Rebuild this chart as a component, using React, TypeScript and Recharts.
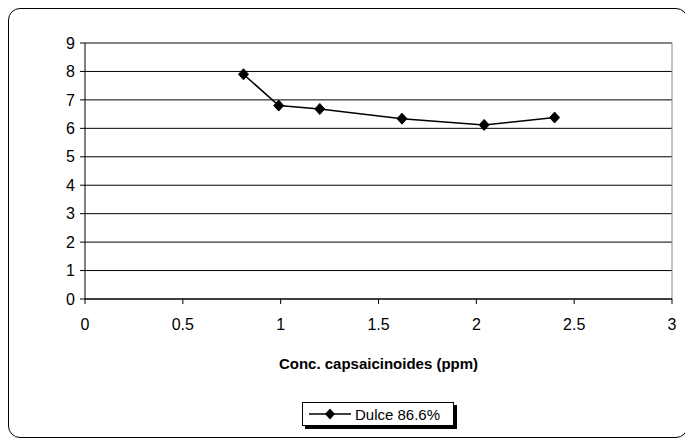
import React from 'react';
import {
  LineChart,
  Line,
  XAxis,
  YAxis,
  CartesianGrid,
  ReferenceLine
} from 'recharts';

const concPpm = [0.81, 0.99, 1.2, 1.62, 2.04, 2.4];
const dulce = [7.9, 6.8, 6.68, 6.34, 6.12, 6.38];
const xTicks = [0, 0.5, 1, 1.5, 2, 2.5, 3];
const yTicks = [0, 1, 2, 3, 4, 5, 6, 7, 8, 9];

const data = concPpm.map((x, i) => ({ x, y: dulce[i] }));

const font = 'Arial, "Liberation Sans", sans-serif';

const Diamond = (props: any) => {
  const { cx, cy } = props;
  if (cx == null || cy == null) return null;
  return (
    <path
      d={`M${cx},${cy - 5.5} L${cx + 5},${cy} L${cx},${cy + 5.5} L${cx - 5},${cy} Z`}
      fill="#000"
      stroke="#000"
    />
  );
};

const App: React.FC = () => (
  <div
    style={{
      position: 'relative',
      width: 678,
      height: 428,
      border: '1px solid #000',
      borderRadius: 12,
      background: '#fff',
      fontFamily: font
    }}
  >
    <LineChart
      width={678}
      height={428}
      data={data}
      margin={{ top: 34, right: 15, bottom: 57, left: 46 }}
    >
      <CartesianGrid horizontal vertical={false} stroke="#000" strokeWidth={1} />
      <XAxis
        dataKey="x"
        type="number"
        domain={[0, 3]}
        ticks={xTicks}
        axisLine={{ stroke: '#000' }}
        tickLine={{ stroke: '#000' }}
        tickSize={5}
        tickMargin={15}
        tick={{ fill: '#000', fontSize: 16, fontFamily: font }}
        height={81}
        label={{
          value: 'Conc. capsaicinoides (ppm)',
          position: 'insideBottom',
          offset: 11,
          fill: '#000',
          fontSize: 15,
          fontWeight: 'bold',
          fontFamily: font
        }}
      />
      <YAxis
        type="number"
        domain={[0, 9]}
        ticks={yTicks}
        axisLine={{ stroke: '#000' }}
        tickLine={{ stroke: '#000' }}
        tickSize={5}
        tickMargin={5}
        width={30}
        tick={{ fill: '#000', fontSize: 16, fontFamily: font }}
      />
      <ReferenceLine y={9} stroke="#888" />
      <ReferenceLine x={3} stroke="#888" />
      <Line
        dataKey="y"
        stroke="#000"
        strokeWidth={1.5}
        dot={<Diamond />}
        isAnimationActive={false}
      />
    </LineChart>
    <div
      style={{
        position: 'absolute',
        left: 293,
        top: 393,
        width: 150,
        height: 22,
        border: '1px solid #000',
        background: '#fff',
        boxShadow: '3px 3px 0 #000',
        display: 'flex',
        alignItems: 'center',
        fontSize: 15
      }}
    >
      <svg width={46} height={14} style={{ marginLeft: 4 }}>
        <line x1={2} y1={7} x2={44} y2={7} stroke="#000" strokeWidth={1.5} />
        <path d="M23,1.5 L28,7 L23,12.5 L18,7 Z" fill="#000" />
      </svg>
      <span style={{ marginLeft: 2 }}>Dulce 86.6%</span>
    </div>
  </div>
);

export default App;
